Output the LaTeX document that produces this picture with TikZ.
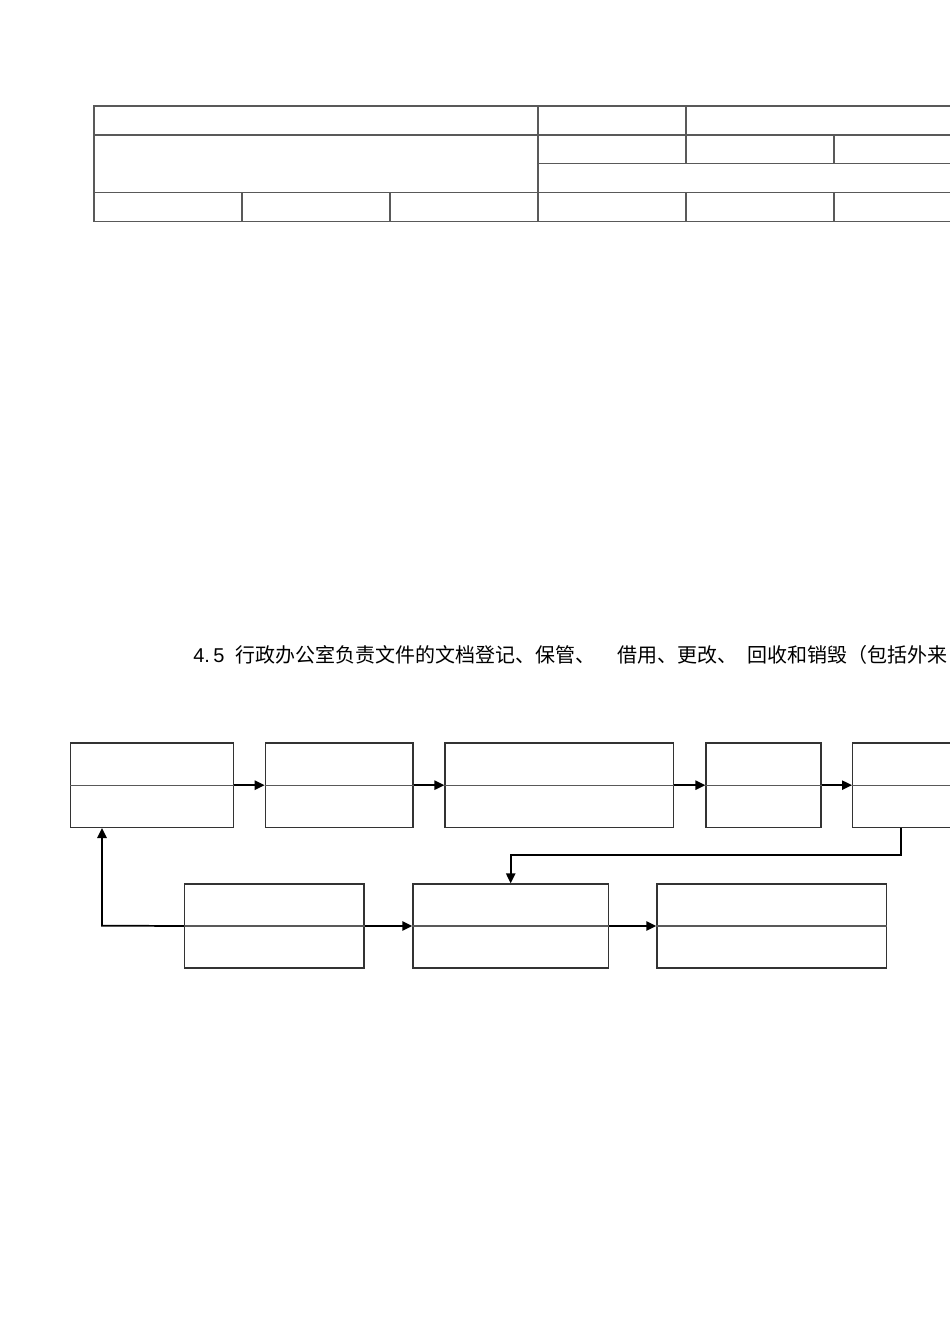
\documentclass[tikz,border=0pt]{standalone}
\usepackage{fontspec}
\setmainfont{Liberation Sans}
\newfontfamily\cjk{Noto Sans CJK SC}
\usetikzlibrary{arrows.meta}

\begin{document}
\begin{tikzpicture}[x=0.75pt,y=-0.75pt,
    cell/.style={draw=black!65, line width=1pt},
    flowbox/.style={draw=black!80, line width=1pt, inner sep=0pt, anchor=north west},
    flow/.style={draw=black, line width=1.3pt, -{Triangle[length=7.5pt,width=7pt]}}]
    \useasboundingbox (0,0) rectangle (950,1343);
    \clip (0,0) rectangle (950,1343);
    % Table
    \draw[cell] (94,106) rectangle (1000,221.5);
    \draw[cell] (94,135) -- (1000,135);
    \draw[cell] (538,163.5) -- (1000,163.5);
    \draw[cell] (94,192.7) -- (1000,192.7);
    \draw[cell] (538,106) -- (538,221.5);
    \draw[cell] (686,106) -- (686,163.5) (686,192.7) -- (686,221.5);
    \draw[cell] (834,135) -- (834,163.5) (834,192.7) -- (834,221.5);
    \draw[cell] (242,192.7) -- (242,221.5) (390,192.7) -- (390,221.5);
    % Title
    \node[anchor=base west, inner sep=0pt, font=\fontsize{15pt}{15pt}\selectfont] (title) at (193,662)
        {4.\,5\hspace{0.55em}{\cjk 行政办公室负责文件的文档登记、保管、\hspace{1.1em}借用、更改、\hspace{0.5em}回收和销毁（包括外来}};
    % Boxes
    \node[flowbox, minimum width=122.3pt, minimum height=63.3pt] (b1) at (70,742.3) {};
    \node[flowbox, minimum width=110.7pt, minimum height=63.3pt] (b2) at (264.7,742.3) {};
    \node[flowbox, minimum width=171.5pt, minimum height=63.3pt] (b3) at (444.3,742.3) {};
    \node[flowbox, minimum width=86.3pt, minimum height=63.3pt] (b4) at (705.3,742.3) {};
    \node[flowbox, minimum width=120pt, minimum height=63.3pt] (b5) at (852,742.3) {};
    \node[flowbox, minimum width=134.5pt, minimum height=63pt] (b6) at (184,883.3) {};
    \node[flowbox, minimum width=146.6pt, minimum height=63pt] (b7) at (412.3,883.3) {};
    \node[flowbox, minimum width=172pt, minimum height=63pt] (b8) at (656.3,883.3) {};
    \foreach \b in {b1,b2,b3,b4,b5,b6,b7,b8}
        \draw[cell] (\b.west) -- (\b.east);
    % Arrows
    \foreach \a/\b in {b1/b2,b2/b3,b3/b4,b4/b5,b6/b7,b7/b8}
        \draw[flow] (\a.east) -- (\b.west);
    \coordinate (turn) at (901,855.3);
    \draw[flow] (b5.south -| turn) -- (turn) -| (b7.north);
    \coordinate (back) at (102,925.7);
    \draw[flow] (b6.west) -- (back) -- (back |- b1.south);
\end{tikzpicture}
\end{document}
